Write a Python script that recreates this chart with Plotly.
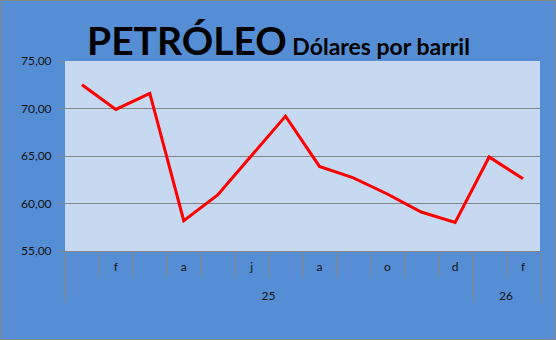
import plotly.graph_objects as go

# ---- data ----
years = ["25"] * 12 + ["26"] * 2
months = ["e", "f", "m", "a", "m", "j", "j", "a", "s", "o", "n", "d", "e", "f"]
shown = [False, True] * 7  # which month labels are displayed on the axis
prices = [72.5, 69.9, 71.6, 58.2, 60.9, 65.0, 69.2, 63.9, 62.7, 61.0, 59.1, 58.0, 64.9, 62.6]
y_ticks = [55, 60, 65, 70, 75]

# ---- derived axis info ----
idx = list(range(len(months)))
month_vals = [i for i in idx if shown[i]]
month_text = [months[i] for i in idx if shown[i]]
boundaries = [i + 0.5 for i in idx[:-1]]

groups = []
start = 0
for i in range(1, len(years) + 1):
    if i == len(years) or years[i] != years[start]:
        groups.append((years[start], start, i - 1))
        start = i
year_vals = [(a + b) / 2 for _, a, b in groups]
year_text = [g for g, _, _ in groups]
year_bounds = [groups[0][1] - 0.5] + [b + 0.5 for _, _, b in groups]

GRAY = "#868686"
BG = "#558ED5"
PLOT_BG = "#C6D9F1"
TXT = "#111111"
FONT = "Lato"

fig = go.Figure()
fig.add_trace(go.Scatter(x=idx, y=prices, mode="lines",
                         line=dict(color="#FF0000", width=3), showlegend=False,
                         hoverinfo="skip"))
# invisible trace on the year axis so it gets drawn
fig.add_trace(go.Scatter(x=idx, y=prices, xaxis="x2", mode="lines",
                         line=dict(width=0), opacity=0, showlegend=False,
                         hoverinfo="skip"))

fig.update_layout(
    width=556, height=340,
    margin=dict(l=65, r=16, t=61, b=89),
    paper_bgcolor=BG, plot_bgcolor=PLOT_BG,
    separators=",.",
    font=dict(family=FONT, size=12, color=TXT),
    xaxis=dict(
        range=[-0.5, len(months) - 0.5], tickmode="array",
        tickvals=month_vals, ticktext=month_text, ticks="",
        showgrid=False, zeroline=False, showline=True, linecolor=GRAY, linewidth=1,
        ticklabelstandoff=5,
        tickfont=dict(family=FONT, size=12, color=TXT),
        minor=dict(tickmode="array", tickvals=boundaries, ticks="outside",
                   ticklen=26, tickcolor=GRAY, tickwidth=1, showgrid=False),
    ),
    xaxis2=dict(
        overlaying="x", anchor="y", side="bottom",
        range=[-0.5, len(months) - 0.5], tickmode="array",
        tickvals=year_vals, ticktext=year_text, ticks="",
        showgrid=False, zeroline=False, showline=False,
        ticklabelstandoff=36,
        tickfont=dict(family=FONT, size=12, color=TXT),
        minor=dict(tickmode="array", tickvals=year_bounds, ticks="outside",
                   ticklen=51, tickcolor=GRAY, tickwidth=1, showgrid=False),
    ),
    yaxis=dict(
        range=[y_ticks[0], y_ticks[-1]], tickmode="array", tickvals=y_ticks,
        tickformat=".2f", ticks="outside", ticklen=6, tickcolor=GRAY,
        showgrid=True, gridcolor=GRAY, gridwidth=1, zeroline=False, showline=False,
        ticklabelstandoff=4,
        tickfont=dict(family=FONT, size=12, color=TXT),
    ),
)

fig.add_annotation(
    xref="paper", yref="paper", x=0.043, y=1, xanchor="left", yanchor="bottom",
    yshift=-4, showarrow=False,
    text="<b>PETRÓLEO</b><span style='font-size:23px'><b> Dólares por barril</b></span>",
    font=dict(family=FONT, size=39, color="#000000"),
)

# outer chart border
fig.add_shape(type="rect", xref="paper", yref="paper",
              x0=-64.5 / 475, x1=1 + 15.5 / 475, y0=-88.5 / 190, y1=1 + 60.5 / 190,
              line=dict(color=GRAY, width=1), fillcolor="rgba(0,0,0,0)", layer="below")

fig.write_html("out.html")
